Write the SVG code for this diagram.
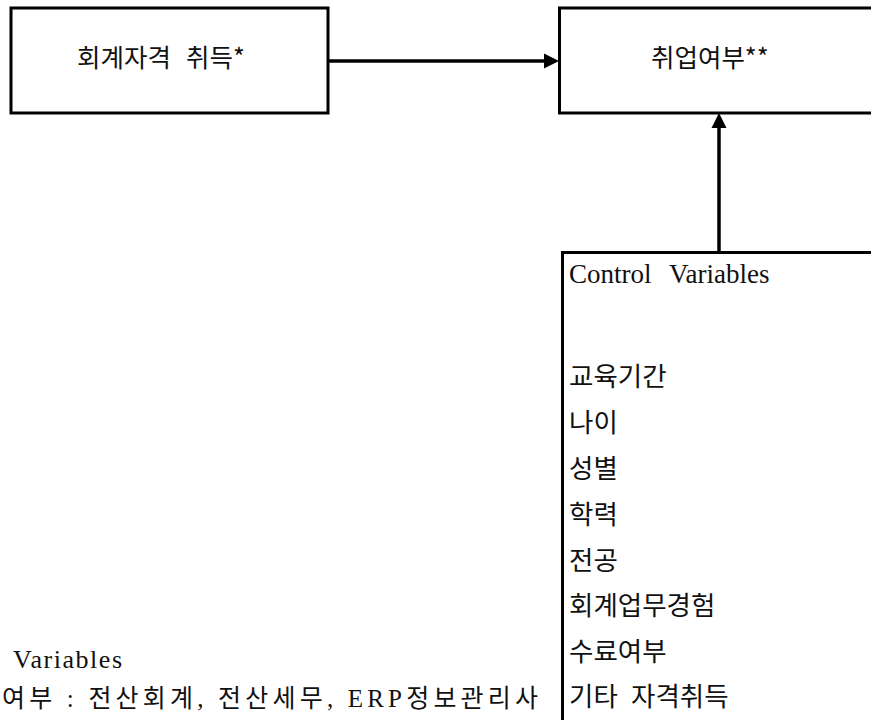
<svg xmlns="http://www.w3.org/2000/svg" width="871" height="720" viewBox="0 0 871 720">
  <style>
    .box { fill: #ffffff; stroke: #000000; stroke-width: 3; }
    .edge { stroke: #000000; stroke-width: 3.5; fill: none; }
    .head { fill: #000000; }
    .ko { font-family: "Noto Sans CJK KR", "Noto Sans", sans-serif; fill: #111111; }
    .serif { font-family: "Liberation Serif", "Noto Sans CJK KR", serif; fill: #111111; }
  </style>
  <rect width="871" height="720" fill="#ffffff"/>
  <g id="node-cert">
    <rect class="box" x="11" y="8" width="317" height="105"/>
    <text class="ko" y="67" font-size="25.5"><tspan x="77">회계자격</tspan><tspan x="186">취득*</tspan></text>
  </g>
  <g id="node-employ">
    <rect class="box" x="559.5" y="8" width="330" height="105"/>
    <text class="ko" x="651" y="67" font-size="25.5">취업여부**</text>
  </g>
  <g id="node-control">
    <rect class="box" x="562.5" y="252.5" width="330" height="500"/>
    <text class="serif" y="283" font-size="27"><tspan x="569">Control</tspan><tspan x="669">Variables</tspan></text>
    <g class="ko" font-size="26.5">
      <text x="569" y="386">교육기간</text>
      <text x="569" y="432">나이</text>
      <text x="569" y="478">성별</text>
      <text x="569" y="524">학력</text>
      <text x="569" y="570">전공</text>
      <text x="569" y="615">회계업무경험</text>
      <text x="569" y="661">수료여부</text>
      <text x="569" y="706"><tspan>기타</tspan><tspan x="631">자격취득</tspan></text>
    </g>
  </g>
  <g id="legend">
    <text class="serif" x="13" y="668" font-size="26" textLength="109" lengthAdjust="spacing">Variables</text>
    <text class="serif" x="2" y="707" font-size="25" textLength="536" lengthAdjust="spacing">여부 : 전산회계, 전산세무, ERP정보관리사</text>
  </g>
  <g id="connectors">
    <line class="edge" x1="328" y1="61" x2="546" y2="61"/>
    <polygon class="head" points="544,53.5 559,61 544,68.5"/>
    <line class="edge" x1="719" y1="252" x2="719" y2="126"/>
    <polygon class="head" points="711.5,128 719,113 726.5,128"/>
  </g>
</svg>
